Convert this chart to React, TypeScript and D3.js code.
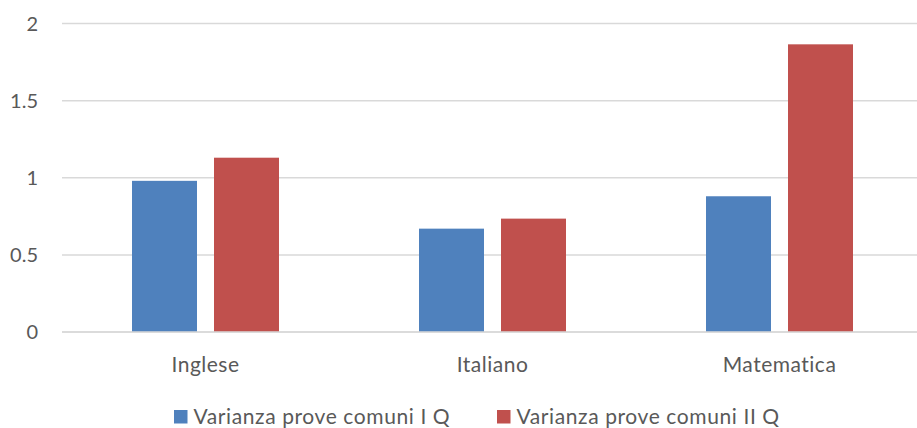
import React from "react";
import * as d3 from "d3";

const categories = ["Inglese", "Italiano", "Matematica"];
const seriesNames = ["Varianza prove comuni I Q", "Varianza prove comuni II Q"];
const serie1 = [0.98, 0.67, 0.88];
const serie2 = [1.13, 0.735, 1.865];
const yTicks = [0, 0.5, 1, 1.5, 2];
const colors = ["#4F81BD", "#C0504D"];

const W = 917;
const H = 428;
const FONT = "Lato, 'Open Sans', sans-serif";
const TXT = "#595959";

export default function App() {
  const x = d3.scaleBand<string>().domain(categories).range([62, 923]).paddingInner(0).paddingOuter(0);
  const inner = d3
    .scaleBand<string>()
    .domain(seriesNames)
    .range([0, x.bandwidth()])
    .paddingInner(17 / 82)
    .paddingOuter((287 - 147) / 2 / 82);
  const y = d3.scaleLinear().domain([0, 2]).range([332, 23.5]);
  const series = [serie1, serie2];

  const legendItems = [
    { name: seriesNames[0], color: colors[0], x: 174 },
    { name: seriesNames[1], color: colors[1], x: 497 },
  ];

  return (
    <svg width={W} height={H} style={{ position: "absolute", left: 0, top: 0, background: "#fff" }}>
      <rect x={0} y={0} width={W} height={H} fill="#fff" />
      {yTicks.map((t) => (
        <g key={t}>
          <line x1={62} x2={W} y1={y(t)} y2={y(t)} stroke="#D9D9D9" strokeWidth={1.5} />
          <text x={38} y={y(t)} dy="0.36em" textAnchor="end" fontFamily={FONT} fontSize={20} fill={TXT}>
            {d3.format("~g")(t)}
          </text>
        </g>
      ))}
      {categories.map((c, i) =>
        series.map((s, j) => (
          <rect
            key={c + j}
            x={(x(c) ?? 0) + (inner(seriesNames[j]) ?? 0)}
            y={y(s[i])}
            width={inner.bandwidth()}
            height={y(0) - y(s[i])}
            fill={colors[j]}
          />
        ))
      )}
      <line x1={62} x2={W} y1={y(0)} y2={y(0)} stroke="#D9D9D9" strokeWidth={1.5} />
      {categories.map((c) => (
        <text
          key={c}
          x={(x(c) ?? 0) + x.bandwidth() / 2}
          y={371.5}
          textAnchor="middle"
          fontFamily={FONT}
          fontSize={21}
          letterSpacing={0.5}
          fill={TXT}
        >
          {c}
        </text>
      ))}
      {legendItems.map((l) => (
        <g key={l.name}>
          <rect x={l.x} y={410} width={13.5} height={13.5} fill={l.color} />
          <text x={l.x + 19.5} y={423.5} fontFamily={FONT} fontSize={21} letterSpacing={0.6} fill={TXT}>
            {l.name}
          </text>
        </g>
      ))}
    </svg>
  );
}
